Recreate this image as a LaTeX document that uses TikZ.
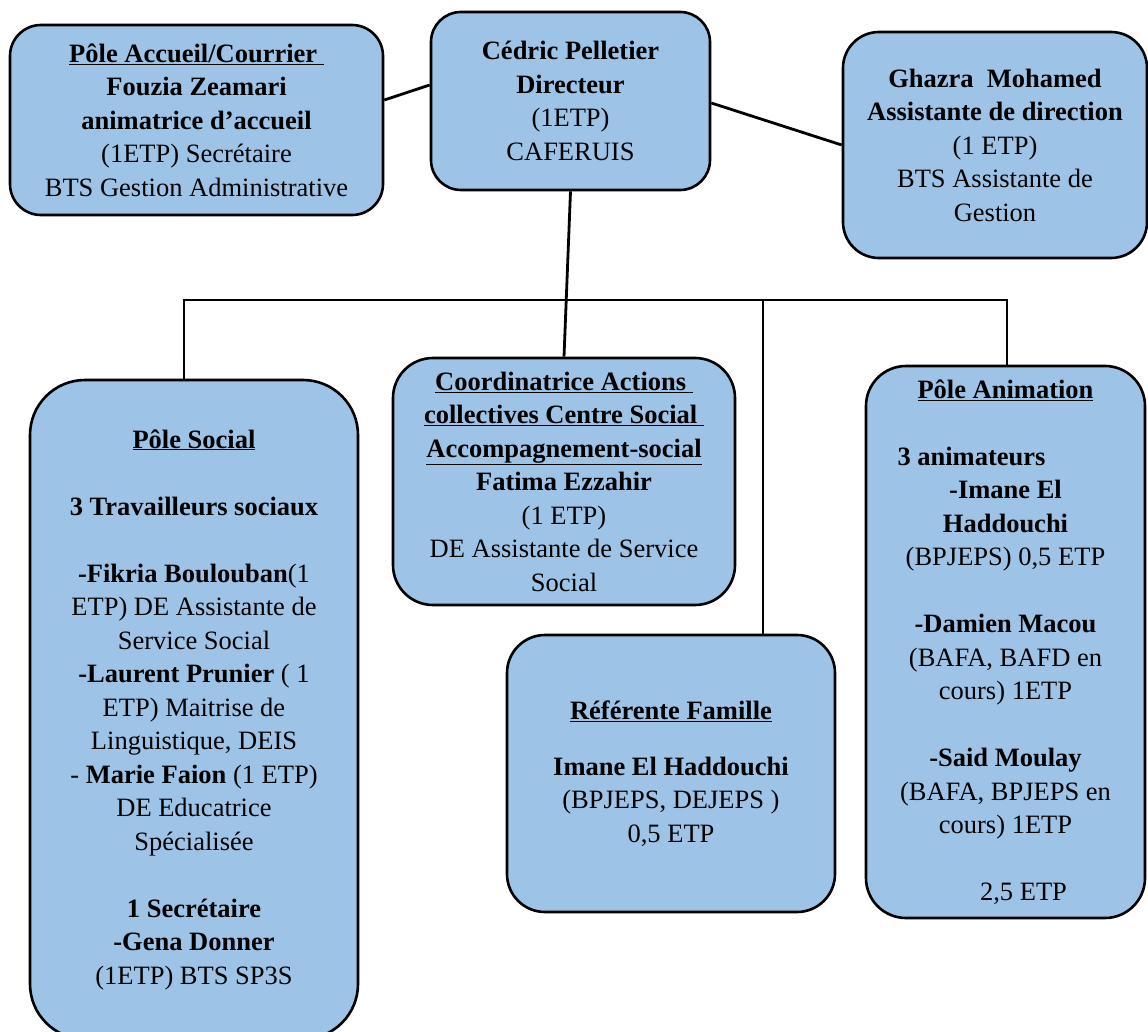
\documentclass[tikz,border=0pt]{standalone}
\usepackage{fontspec}
\setmainfont{Liberation Serif}
\definecolor{boxblue}{RGB}{157,195,230}
\tikzset{
  orgbox/.style={draw=black, line width=2.6pt, fill=boxblue, inner sep=0pt,
    align=center, font=\fontsize{26.5}{33.5}\selectfont},
  link/.style={draw=black, line width=2.8pt}
}
\begin{document}
\begin{tikzpicture}[x=1pt,y=-1pt]
\useasboundingbox (0,0) rectangle (1148,1032);
\clip (0,0) rectangle (1148,1032);

\node[orgbox, rounded corners=31pt, minimum width=373pt, minimum height=190pt] (acc) at (196.5,120)
 {\textbf{\underline{Pôle Accueil/Courrier\ }}\\ \textbf{Fouzia Zeamari}\\ \textbf{animatrice d’accueil}\\ (1ETP) Secrétaire\\ BTS Gestion Administrative};

\node[orgbox, rounded corners=30pt, minimum width=279pt, minimum height=178pt] (dir) at (570.5,101)
 {\textbf{Cédric Pelletier}\\ \textbf{Directeur}\\ (1ETP)\\ CAFERUIS};

\node[orgbox, rounded corners=36pt, minimum width=304pt, minimum height=226pt] (gha) at (995,145)
 {\textbf{Ghazra\ \ Mohamed}\\ \textbf{Assistante de direction}\\ (1 ETP)\\ BTS Assistante de\\ Gestion};

\node[orgbox, rounded corners=55pt, minimum width=328pt, minimum height=659pt] (soc) at (194,709.5)
 {\textbf{\underline{Pôle Social}}\\[33.5pt]
  \textbf{3 Travailleurs sociaux}\\[33.5pt]
  \textbf{-Fikria Boulouban}(1\\ ETP) DE Assistante de\\ Service Social\\
  \textbf{-Laurent Prunier} ( 1\\ ETP) Maitrise de\\ Linguistique, DEIS\\
  - \textbf{Marie Faion} (1 ETP)\\ DE Educatrice\\ Spécialisée\\[33.5pt]
  \textbf{1 Secrétaire}\\ \textbf{-Gena Donner}\\ (1ETP) BTS SP3S};

\node[orgbox, rounded corners=40pt, minimum width=342pt, minimum height=247pt] (coo) at (564,481.5)
 {\textbf{\underline{Coordinatrice Actions\ }}\\ \textbf{\underline{collectives Centre Social\ }}\\ \textbf{\underline{Accompagnement-social}}\\ \textbf{Fatima Ezzahir}\\ (1 ETP)\\ DE Assistante de Service\\ Social};

\node[orgbox, rounded corners=38pt, minimum width=328pt, minimum height=277pt] (ref) at (671,773.5)
 {\textbf{\underline{Référente Famille}}\\[22pt] \textbf{Imane El Haddouchi}\\ (BPJEPS, DEJEPS )\\ 0,5 ETP};

\node[orgbox, rounded corners=40pt, minimum width=279pt, minimum height=552pt] (ani) at (1005.5,642)
 {\textbf{\underline{Pôle Animation}}\\[33.5pt]
  \hspace*{-68pt}\textbf{3 animateurs}\\ \textbf{-Imane El}\\ \textbf{Haddouchi}\\ (BPJEPS) 0,5 ETP\\[33.5pt]
  \textbf{-Damien Macou}\\ (BAFA, BAFD en\\ cours) 1ETP\\[33.5pt]
  \textbf{-Said Moulay}\\ (BAFA, BPJEPS en\\ cours) 1ETP\\[33.5pt]
  \hspace*{36pt}2,5 ETP};

\coordinate (bL) at (184,300);
\coordinate (bM) at (763,300);
\coordinate (bR) at (1007,300);

\draw[link] ([yshift=20pt]acc.east) -- ([yshift=16pt]dir.west);
\draw[link] ([yshift=-2pt]dir.east) -- (gha.west);
\draw[link] (dir.south) -- (coo.north);
\draw[link] (soc.north -| bL) -- (bL) -- (bR) -- (ani.north -| bR);
\draw[link] (bM) -- (bM |- ref.north);
\end{tikzpicture}
\end{document}
